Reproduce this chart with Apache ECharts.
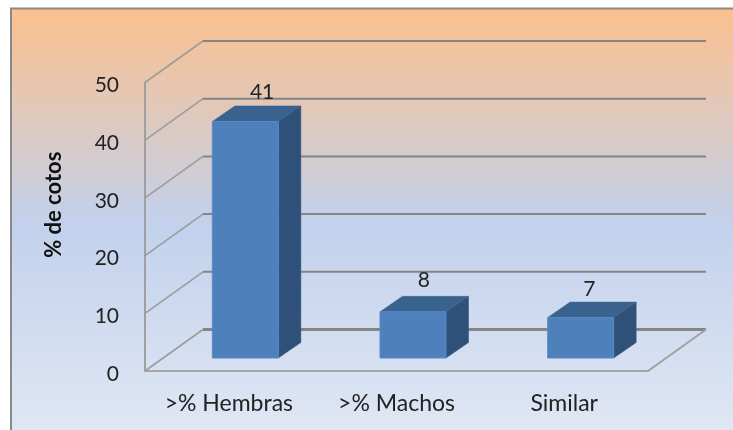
<!DOCTYPE html>
<html>
<head>
<meta charset="utf-8">
<style>html,body{margin:0;padding:0;background:#fff;overflow:hidden}#c{width:733px;height:430px;filter:blur(0.45px)}</style>
<script src="https://cdn.jsdelivr.net/npm/echarts@6/dist/echarts.min.js"></script>
</head>
<body>
<div id="c"></div>
<script>
const categories = ['>% Hembras', '>% Machos', 'Similar'];
const values = [41, 8, 7];
const valueTicks = [0, 10, 20, 30, 40, 50];
const axisTitle = '% de cotos';

// 3D box projection (pixels)
const WALL_DX = 58, WALL_DY = -41.5;      // depth of the chart's floor
const BAR_SHIFT_X = 16.5, BAR_LIFT_Y = -13; // bar's front face within that depth
const BAR_DX = 22.5, BAR_DY = -15.5;     // depth of a bar
const BAR_W = 66;
const LABEL_NUDGE = [[1, 1], [-5, -1], [-7, 2]];

const chart = echarts.init(document.getElementById('c'), null, {renderer: 'canvas'});
const font = 'Lato';

function poly(points, fill) {
  return {type: 'polygon', shape: {points}, style: {fill, stroke: fill, lineWidth: 0.5}};
}

chart.setOption({
  animation: false,
  backgroundColor: '#ffffff',
  graphic: [{
    type: 'rect', z: -10, silent: true,
    shape: {x: 11, y: 8.5, width: 740, height: 440},
    style: {
      stroke: '#888888', lineWidth: 2,
      fill: {type: 'linear', x: 0, y: 0, x2: 0, y2: 1, colorStops: [
        {offset: 0, color: '#FCC08E'},
        {offset: 0.49, color: '#C2D1EC'},
        {offset: 0.96, color: '#E0E7F4'}
      ]}
    }
  }],
  grid: {left: 145, right: 85, top: 82.5, bottom: 59},
  xAxis: {
    type: 'category', data: categories,
    axisTick: {show: false},
    axisLine: {lineStyle: {color: '#A6A6A6', width: 2}},
    axisLabel: {fontFamily: font, fontSize: 23, color: '#222222', margin: 21}
  },
  yAxis: {
    type: 'value', min: 0, max: 50, interval: 10,
    name: axisTitle, nameLocation: 'middle', nameGap: 80,
    nameTextStyle: {fontFamily: font, fontSize: 22, fontWeight: 'bold', color: '#111', padding: [0, 0, 0, 44]},
    axisTick: {show: false},
    splitLine: {show: false},
    axisLine: {show: true, lineStyle: {color: '#A0A0A0', width: 2}},
    axisLabel: {fontFamily: font, fontSize: 21, color: '#222222', margin: 26,
      verticalAlign: 'top', lineHeight: 6,
      customValues: valueTicks}
  },
  series: [
    {
      type: 'custom', z: 1, silent: true, clip: false,
      data: valueTicks.map(t => [0, t]),
      encode: {x: 0, y: 1},
      renderItem(params, api) {
        const cs = params.coordSys;
        const y = api.coord([0, api.value(1)])[1];
        const left = cs.x, right = cs.x + cs.width;
        const backY = y + WALL_DY;
        const isFloor = api.value(1) === 0;
        const children = [
          {type: 'line', shape: {x1: left, y1: y, x2: left + WALL_DX, y2: backY},
            style: {stroke: '#9C9C9C', lineWidth: 1.6}},
          {type: 'line', shape: {x1: left + WALL_DX, y1: backY, x2: right + WALL_DX, y2: backY},
            style: {stroke: '#858585', lineWidth: isFloor ? 3 : 2}}
        ];
        if (isFloor) {
          children.push({type: 'line', shape: {x1: right, y1: y, x2: right + WALL_DX, y2: backY},
            style: {stroke: '#A0A0A0', lineWidth: 2}});
        }
        return {type: 'group', children};
      }
    },
    {
      type: 'custom', z: 3, silent: true, clip: false,
      data: values.map((v, i) => [i, v]),
      encode: {x: 0, y: 1},
      renderItem(params, api) {
        const i = api.value(0), v = api.value(1);
        const top = api.coord([i, v]);
        const base = api.coord([i, 0]);
        const xl = top[0] + BAR_SHIFT_X - BAR_W / 2, xr = xl + BAR_W;
        const yt = top[1] + BAR_LIFT_Y, yb = base[1] + BAR_LIFT_Y;
        const n = LABEL_NUDGE[i];
        return {type: 'group', children: [
          poly([[xr, yt], [xr + BAR_DX, yt + BAR_DY], [xr + BAR_DX, yb + BAR_DY], [xr, yb]], '#2F5179'),
          poly([[xl, yt], [xl + BAR_DX, yt + BAR_DY], [xr + BAR_DX, yt + BAR_DY], [xr, yt]], '#3A628F'),
          {type: 'rect', shape: {x: xl, y: yt, width: BAR_W, height: yb - yt},
            style: {fill: '#4E80BC', stroke: '#5A8AC4', lineWidth: 1}},
          {type: 'text', style: {
            text: String(v), x: (xl + xr) / 2 + BAR_DX * 0.7 + n[0], y: yt + BAR_DY - 15 + n[1],
            align: 'center', verticalAlign: 'middle',
            font: '21px ' + font, fill: '#222222'}}
        ]};
      }
    }
  ]
});
</script>
</body>
</html>
